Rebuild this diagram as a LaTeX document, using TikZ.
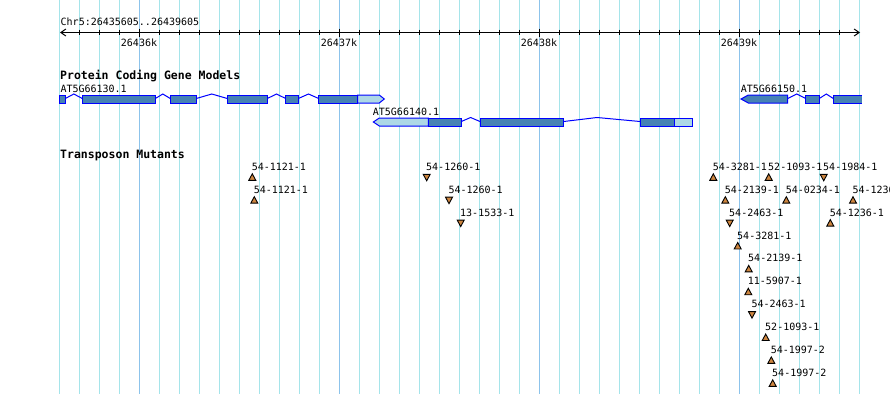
\documentclass[tikz,border=0pt]{standalone}
\usepackage{fontspec}
\usetikzlibrary{arrows.meta}
\newfontfamily\gfont{DejaVu Sans Mono}
\definecolor{gridc}{RGB}{165,228,234}
\definecolor{gridmaj}{RGB}{140,195,235}
\definecolor{exondark}{RGB}{70,130,180}
\definecolor{exonlight}{RGB}{173,216,230}
\definecolor{exonedge}{RGB}{0,0,255}
\definecolor{tnfill}{RGB}{205,133,63}
\begin{document}
\begin{tikzpicture}[x=1pt,y=-1pt,
  lab/.style={font=\gfont\fontsize{10}{12}\selectfont, inner sep=0pt, text=black},
  ttl/.style={font=\gfont\bfseries\fontsize{11.5}{13}\selectfont, inner sep=0pt, text=black, anchor=base west},
  gridline/.style={draw=gridc, line width=1pt},
  gridmajor/.style={draw=gridmaj, line width=1pt},
  axisline/.style={draw=black, line width=1pt},
  exd/.style={fill=exondark, draw=exonedge, line width=1pt},
  exl/.style={fill=exonlight, draw=exonedge, line width=1pt},
  intr/.style={draw=exonedge, line width=1pt},
  tri/.style={fill=tnfill, draw=black, line width=0.9pt, line join=miter}
]
\useasboundingbox (0,0) rectangle (890,394);
\clip (0,0) rectangle (890,394);
\fill[white] (0,0) rectangle (890,394);
% grid
\foreach \i in {0,...,40} \draw[gridline] ({59.5+20*\i},0) -- ++(0,394);
\foreach \x in {139.5,339.5,539.5,739.5} \draw[gridmajor] (\x,0) -- ++(0,394);
% ruler
\coordinate (axL) at (60,32.5);
\coordinate (axR) at (860,32.5);
\draw[axisline, {Straight Barb[length=5pt,width=7pt]}-{Straight Barb[length=5pt,width=7pt]}] (axL) -- (axR);
\foreach \i in {1,...,39} \draw[axisline] ({59.5+20*\i},29.5) -- ++(0,5);
\foreach \x in {139.5,339.5,539.5,739.5} \draw[axisline] (\x,28.5) -- ++(0,8);
\node[lab, anchor=base west] (chr) at (60.5,25) {Chr5:26435605..26439605};
\node[lab, anchor=base] (k1) at (139,46) {26436k};
\node[lab, anchor=base] (k2) at (339,46) {26437k};
\node[lab, anchor=base] (k3) at (539,46) {26438k};
\node[lab, anchor=base] (k4) at (739,46) {26439k};
% gene models
\node[ttl] (pcgm) at (60,79.5) {Protein Coding Gene Models};
\node[lab, anchor=base west] (g1) at (60.3,92.3) {AT5G66130.1};
\node[lab, anchor=base west] (g2) at (372.7,115.7) {AT5G66140.1};
\node[lab, anchor=base west] (g3) at (740.7,92.3) {AT5G66150.1};
% gene 1
\draw[intr] (65.3,98.5) -- (73.8,94) -- (82.3,98.5);
\draw[intr] (155.3,98.5) -- (162.8,94) -- (170.3,98.5);
\draw[intr] (196.3,98.5) -- (211.8,94) -- (227.3,98.5);
\draw[intr] (267.3,98.5) -- (276.5,94) -- (285.7,98.5);
\draw[intr] (298.3,98.5) -- (308.5,94) -- (318.7,98.5);
\draw[exd] (59,95) rectangle (65.3,103);
\draw[exd] (82.3,95) rectangle (155.3,103);
\draw[exd] (170.3,95) rectangle (196.3,103);
\draw[exd] (227.3,95) rectangle (267.3,103);
\draw[exd] (285.7,95) rectangle (298.3,103);
\draw[exd] (318.7,95) rectangle (357.7,103);
\draw[exl] (357.7,95) -- (379.3,95) -- (384.3,99) -- (379.3,103) -- (357.7,103) -- cycle;
% gene 2
\draw[intr] (461.3,121.5) -- (470.6,117.5) -- (480,121.5);
\draw[intr] (563.7,121.5) -- (597,117.5) -- (640,121.5);
\draw[exl] (373.3,122) -- (379.3,118) -- (428.3,118) -- (428.3,126) -- (379.3,126) -- cycle;
\draw[exd] (428.3,118) rectangle (461.3,126);
\draw[exd] (480,118) rectangle (563.7,126);
\draw[exd] (640,118) rectangle (674.3,126);
\draw[exl] (674.3,118) rectangle (692.3,126);
% gene 3
\draw[intr] (787.7,98.5) -- (796.7,94) -- (805.7,98.5);
\draw[intr] (819.3,98.5) -- (826.3,94) -- (833.3,98.5);
\draw[exd] (741,99) -- (748.3,95) -- (787.7,95) -- (787.7,103) -- (748.3,103) -- cycle;
\draw[exd] (805.7,95) rectangle (819.3,103);
\fill[exondark] (833.3,95) rectangle (862,103);
\draw[intr] (862,95) -- (833.3,95) -- (833.3,103) -- (862,103);
% transposon mutants
\node[ttl] (tm) at (60,158) {Transposon Mutants};
\foreach \r/\x/\b/\t/\txt [count=\n] in {
  0/252.3/3/-3.5/54-1121-1,
  0/426.7/-3/3.5/54-1260-1,
  0/713.3/3/-3.5/54-3281-1,
  0/768.7/3/-3.5/52-1093-1,
  0/823.7/-3/3.5/54-1984-1,
  1/254.3/3/-3.5/54-1121-1,
  1/449.0/-3/3.5/54-1260-1,
  1/725.3/3/-3.5/54-2139-1,
  1/786.3/3/-3.5/54-0234-1,
  1/853.0/3/-3.5/54-1236-1,
  2/460.7/-3/3.5/13-1533-1,
  2/729.7/-3/3.5/54-2463-1,
  2/830.3/3/-3.5/54-1236-1,
  3/737.7/3/-3.5/54-3281-1,
  4/748.7/3/-3.5/54-2139-1,
  5/748.3/3/-3.5/11-5907-1,
  6/752.0/-3/3.5/54-2463-1,
  7/765.7/3/-3.5/52-1093-1,
  8/771.3/3/-3.5/54-1997-2,
  9/772.7/3/-3.5/54-1997-2}{
  \pgfmathsetmacro\ly{166.7+22.89*\r}
  \node[lab, anchor=base west] (m\n) at ({\x-0.7},{\ly+3.7}) {\txt};
  \filldraw[tri] ({\x-3.5},{\ly+10.6+\b}) -- ({\x+3.5},{\ly+10.6+\b}) -- (\x,{\ly+10.6+\t}) -- cycle;
}
\end{tikzpicture}
\end{document}
